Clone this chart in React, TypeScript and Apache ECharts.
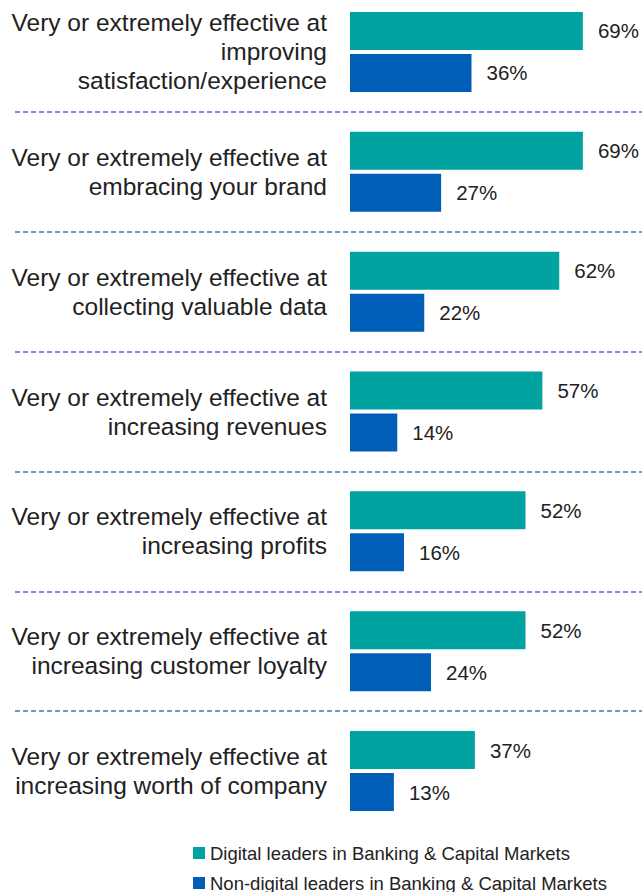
import React, { useEffect, useRef } from "react";
import * as echarts from "echarts";

const categories = [
  "Very or extremely effective at\nimproving\nsatisfaction/experience",
  "Very or extremely effective at\nembracing your brand",
  "Very or extremely effective at\ncollecting valuable data",
  "Very or extremely effective at\nincreasing revenues",
  "Very or extremely effective at\nincreasing profits",
  "Very or extremely effective at\nincreasing customer loyalty",
  "Very or extremely effective at\nincreasing worth of company",
];
const digitalLeaders = [69, 69, 62, 57, 52, 52, 37];
const nonDigitalLeaders = [36, 27, 22, 14, 16, 24, 13];
const seriesNames = [
  "Digital leaders in Banking & Capital Markets",
  "Non-digital leaders in Banking & Capital Markets",
];

const TEAL = "#00A39F";
const BLUE = "#005EB8";
const TEXT = "#222222";
const FONT = "'Liberation Sans', Arial, sans-serif";
const SHIFT = 8;

export default function App() {
  const ref = useRef<HTMLDivElement>(null);
  useEffect(() => {
    if (!ref.current) return;
    const chart = echarts.init(ref.current, null, { renderer: "svg" });
    const splitColors = [
      "rgba(0,0,0,0)",
      ...categories.slice(1).map(() => "#4472C4"),
      "rgba(0,0,0,0)",
    ];
    chart.setOption({
      animation: false,
      textStyle: { fontFamily: FONT },
      legend: {
        orient: "vertical",
        left: 188,
        top: 838 + SHIFT,
        height: 80,
        itemWidth: 12,
        itemHeight: 12,
        itemGap: 10,
        icon: "rect",
        textStyle: { fontSize: 18.5, color: TEXT, lineHeight: 20, fontFamily: FONT },
        data: seriesNames,
      },
      grid: [
        { left: 350, width: 270, top: 0, height: 839, containLabel: false },
        { left: 15, right: 0, top: 0, height: 839, containLabel: false },
      ],
      xAxis: [
        { type: "value", gridIndex: 0, min: 0, max: 80, show: false },
        { type: "value", gridIndex: 1, min: 0, max: 1, show: false },
      ],
      yAxis: [
        {
          type: "category",
          gridIndex: 0,
          inverse: true,
          data: categories,
          axisLine: { show: false },
          axisTick: { show: false },
          splitLine: { show: false },
          axisLabel: {
            margin: 23,
            align: "right",
            fontSize: 24.5,
            lineHeight: 29,
            color: TEXT,
            fontFamily: FONT,
            interval: 0,
          },
        },
        {
          type: "category",
          gridIndex: 1,
          inverse: true,
          data: categories,
          axisLine: { show: false },
          axisTick: { show: false },
          axisLabel: { show: false },
          splitLine: {
            show: true,
            interval: 0,
            lineStyle: { color: splitColors, width: 1.5, type: [5, 3] },
          },
        },
      ],
      series: [
        {
          name: seriesNames[0],
          type: "bar",
          xAxisIndex: 0,
          yAxisIndex: 0,
          data: digitalLeaders,
          barWidth: 38,
          barGap: "10.5%",
          itemStyle: { color: TEAL },
          label: {
            show: true,
            position: "right",
            distance: 15,
            formatter: "{c}%",
            fontSize: 20.5,
            color: TEXT,
            fontFamily: FONT,
          },
        },
        {
          name: seriesNames[1],
          type: "bar",
          xAxisIndex: 0,
          yAxisIndex: 0,
          data: nonDigitalLeaders,
          barWidth: 38,
          barGap: "10.5%",
          itemStyle: { color: BLUE },
          label: {
            show: true,
            position: "right",
            distance: 15,
            formatter: "{c}%",
            fontSize: 20.5,
            color: TEXT,
            fontFamily: FONT,
          },
        },
      ],
    });
    return () => chart.dispose();
  }, []);
  return (
    <div
      ref={ref}
      style={{
        position: "fixed",
        left: 0,
        top: -SHIFT,
        width: 642,
        height: 892 + SHIFT,
        background: "#fff",
      }}
    />
  );
}
